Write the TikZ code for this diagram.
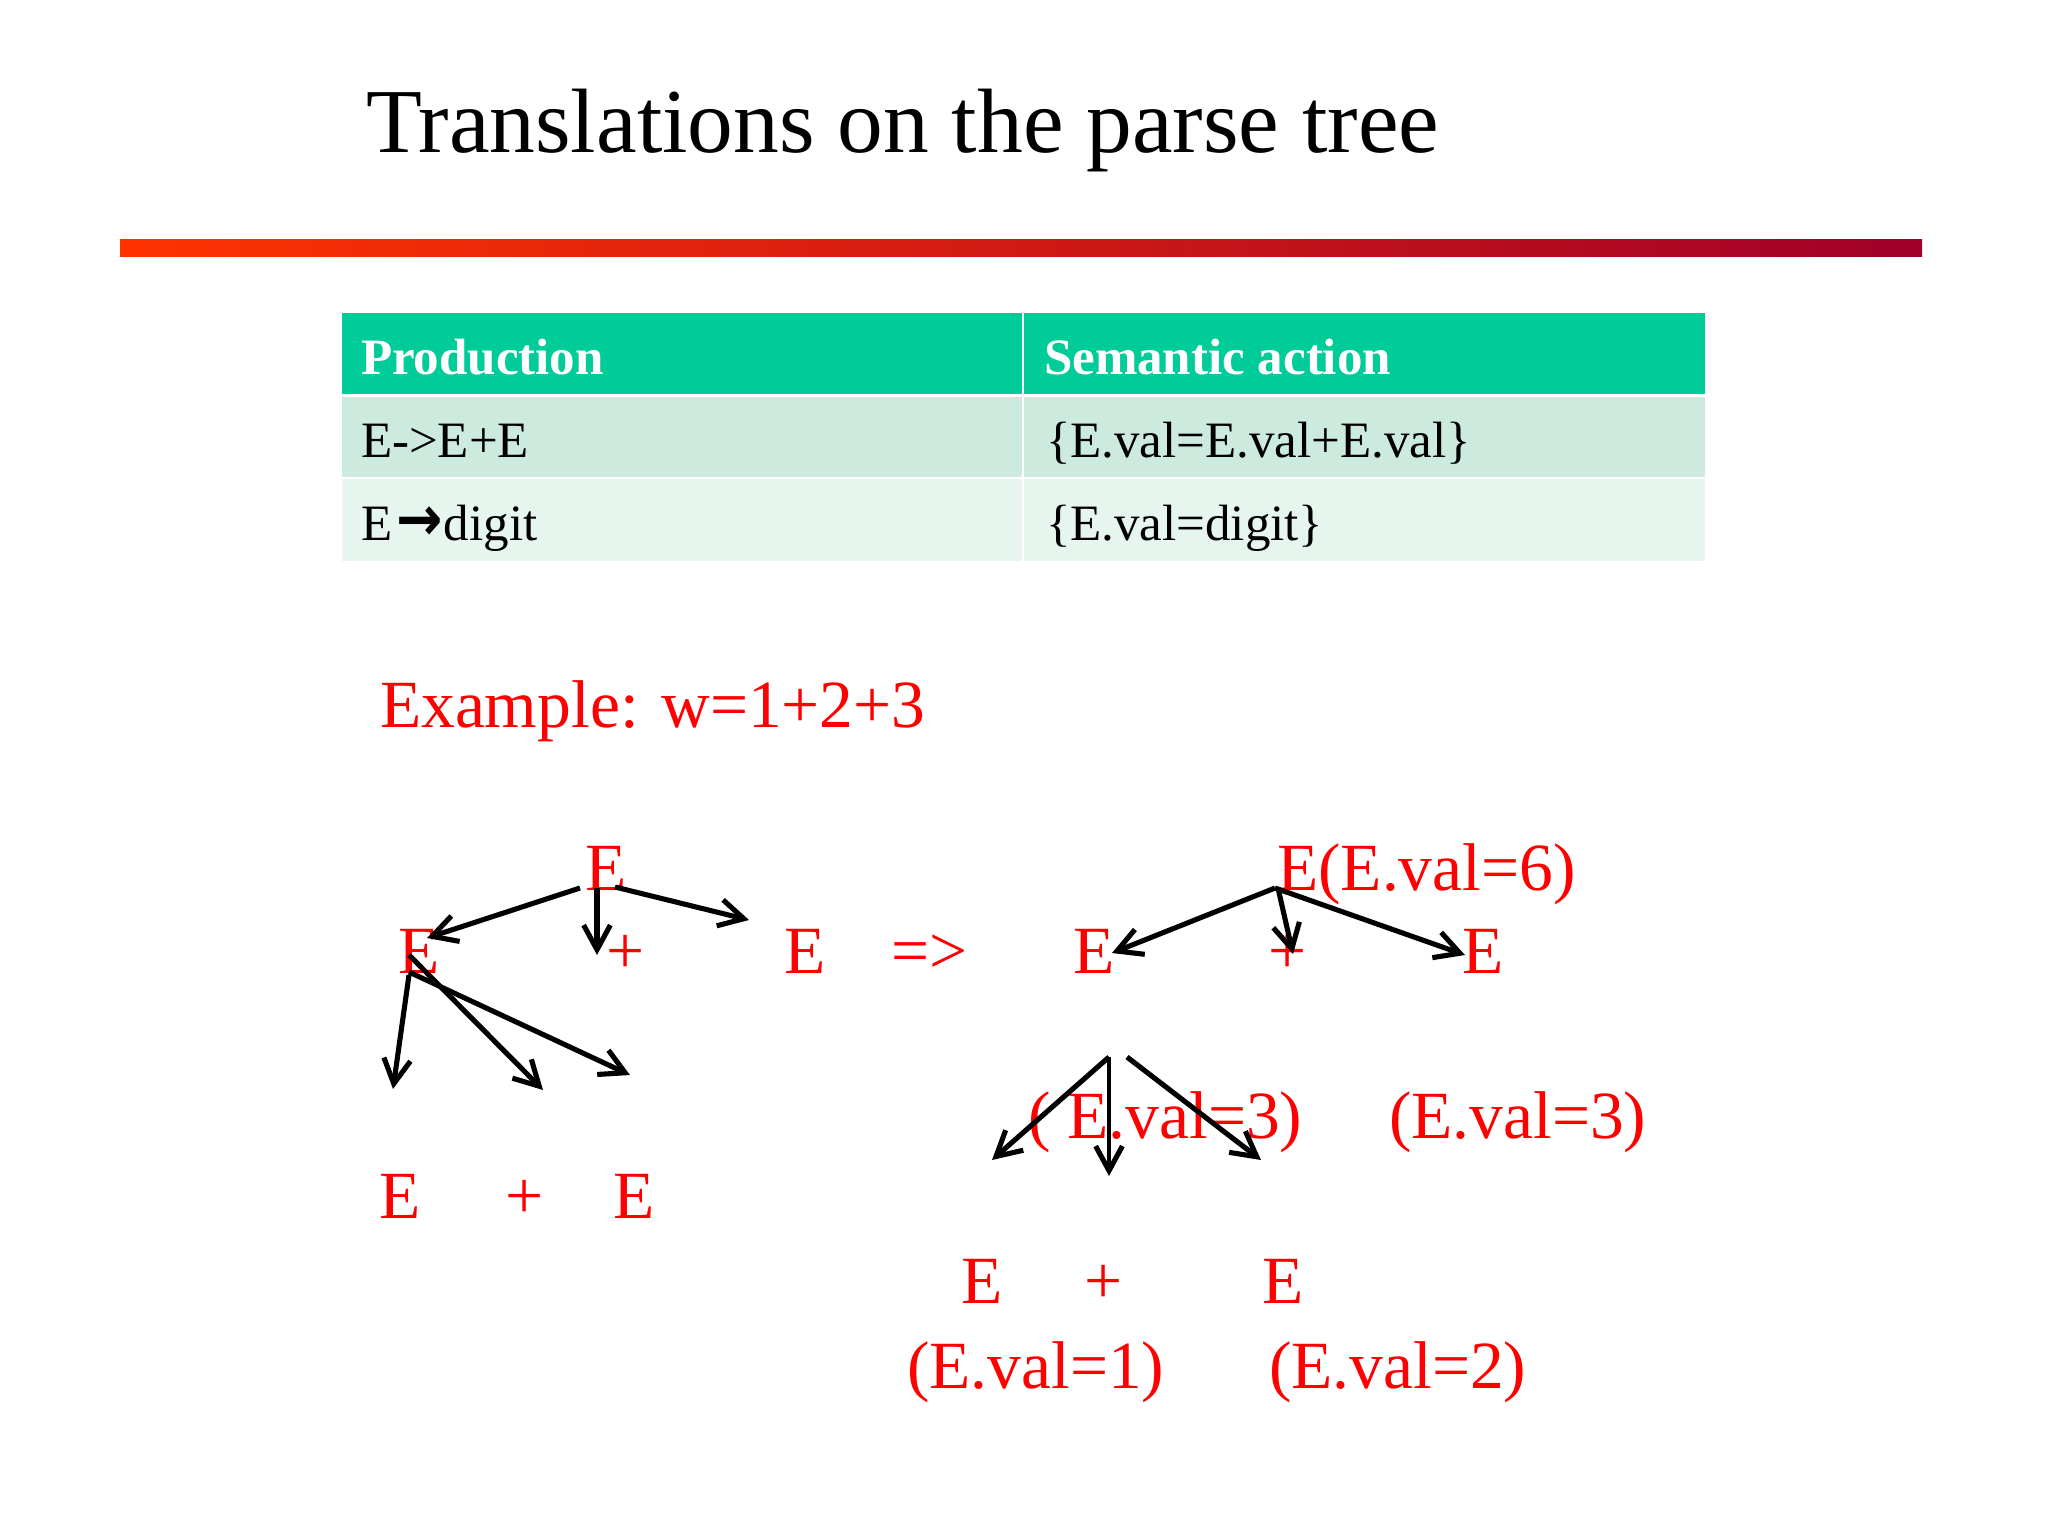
\documentclass[tikz,border=0pt]{standalone}
\usepackage{fontspec}
\setmainfont{Liberation Serif}
\newfontfamily\arrowfont{DejaVu Sans}
\usetikzlibrary{arrows.meta}
\definecolor{hdrgreen}{RGB}{0,204,153}
\definecolor{rowa}{RGB}{204,234,222}
\definecolor{rowb}{RGB}{231,245,239}
\definecolor{barL}{RGB}{255,51,0}
\definecolor{barR}{RGB}{160,0,40}
\definecolor{slidered}{RGB}{255,0,0}
\tikzset{
  txt/.style={anchor=base west,inner sep=0pt,outer sep=0pt},
  title/.style={txt,font=\fontsize{26}{30}\selectfont},
  cell/.style={txt,font=\fontsize{14.5}{17}\selectfont},
  hcell/.style={cell,font=\fontsize{14.5}{17}\selectfont\bfseries,text=white},
  red/.style={txt,text=slidered,font=\fontsize{19.2}{22}\selectfont},
  conn/.style={draw=black,line width=1.45pt,-{Straight Barb[length=7pt,width=7.6pt,line width=1.45pt]}}
}
\begin{document}
\begin{tikzpicture}[x=0.01cm,y=-0.01cm]
\useasboundingbox (0,0) rectangle (2048,1536);
\fill[white] (0,0) rectangle (2048,1536);
% title and bar
\node[title] (title) at (366,152) {Translations on the parse tree};
\shade[left color=barL,right color=barR] (120,239) rectangle (1922,256);
% table
\fill[hdrgreen] (342,313) rectangle (1705,394);
\fill[rowa] (342,397) rectangle (1705,477);
\fill[rowb] (342,479) rectangle (1705,561);
\draw[white,line width=0.6pt] (1023,313) -- (1023,561);
\node[hcell] (h1) at (361,374) {Production};
\node[hcell] (h2) at (1044,374) {Semantic action};
\node[cell] (c11) at (361,457) {E->E+E};
\node[cell] (c12) at (1046,457) {\{E.val=E.val+E.val\}};
\node[cell] (c21) at (361,540) {E\kern1.2pt\resizebox{13.2pt}{9.6pt}{\arrowfont\bfseries →}\kern0.3pt digit};
\node[cell] (c22) at (1046,540) {\{E.val=digit\}};
% example
\node[red] (ex) at (380,727) {Example: w=1+2+3};
% left tree
\node[red] (lE0) at (585,890) {E};
\node[red] (lE1) at (398,973) {E};
\node[red] (lP1) at (606,973) {+};
\node[red] (lE2) at (784,973) {E};
\node[red] (impl) at (891,973) {=>};
\node[red] (lbE1) at (379,1218) {E};
\node[red] (lbP) at (505,1218) {+};
\node[red] (lbE2) at (613,1218) {E};
% right tree
\node[red] (rRoot) at (1277,890) {E(E.val=6)};
\node[red] (rE1) at (1073,973) {E};
\node[red] (rP) at (1268,973) {+};
\node[red] (rE2) at (1462,973) {E};
\node[red] (v3a) at (1028,1138) {( E.val=3)};
\node[red] (v3b) at (1389,1138) {(E.val=3)};
\node[red] (bE1) at (961,1303) {E};
\node[red] (bP) at (1084,1303) {+};
\node[red] (bE2) at (1262,1303) {E};
\node[red] (v1) at (907,1388) {(E.val=1)};
\node[red] (v2) at (1269,1388) {(E.val=2)};
% connector end points
\coordinate (a1s) at (580,888);  \coordinate (a1t) at (427,938);
\coordinate (a2s) at (597,888);  \coordinate (a2t) at (597,955);
\coordinate (a3s) at (615,887);  \coordinate (a3t) at (749,920);
\coordinate (a4s) at (409,975);  \coordinate (a4t) at (393,1089);
\coordinate (a5s) at (409,955);  \coordinate (a5t) at (543,1090);
\coordinate (a6s) at (409,972);  \coordinate (a6t) at (630,1075);
\coordinate (r0) at (1275,888);
\coordinate (r1t) at (1112,953);
\coordinate (r2s) at (1278,888); \coordinate (r2t) at (1293,954);
\coordinate (r3t) at (1465,955);
\coordinate (s0) at (1109,1057);
\coordinate (s1t) at (992,1160);
\coordinate (s2t) at (1109,1176);
\coordinate (s3s) at (1127,1057); \coordinate (s3t) at (1261,1160);
% connectors
\draw[conn] (a1s) -- (a1t);
\draw[conn] (a2s) -- (a2t);
\draw[conn] (a3s) -- (a3t);
\draw[conn] (a4s) -- (a4t);
\draw[conn] (a5s) -- (a5t);
\draw[conn] (a6s) -- (a6t);
\draw[conn] (r0) -- (r1t);
\draw[conn] (r2s) -- (r2t);
\draw[conn] (r0) -- (r3t);
\draw[conn] (s0) -- (s1t);
\draw[conn,line width=1.2pt] (s0) -- (s2t);
\draw[conn] (s3s) -- (s3t);
\end{tikzpicture}
\end{document}
